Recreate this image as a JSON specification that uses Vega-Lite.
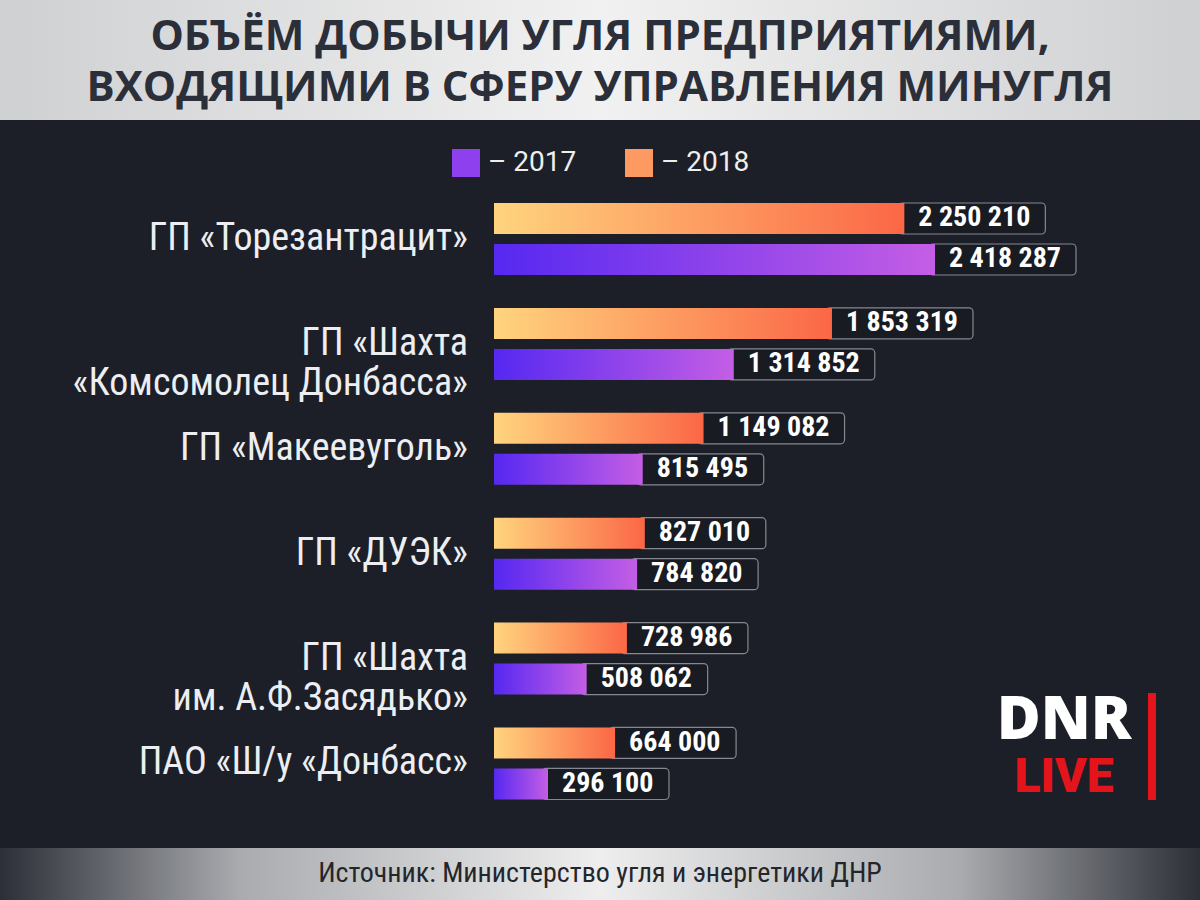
{
  "$schema": "https://vega.github.io/schema/vega-lite/v6.json",
  "background": "#1c1f27",
  "padding": 0,
  "spacing": 0,
  "config": {
    "view": {"stroke": null},
    "concat": {"spacing": 0},
    "locale": {"number": {"decimal": ",", "thousands": " ", "grouping": [3], "currency": ["", ""]}}
  },
  "vconcat": [
    {
      "width": 1200,
      "height": 120,
      "layer": [
        {
          "data": {"values": [{"band": "header"}]},
          "mark": {"type": "rect", "fill": {"gradient": "linear", "x1": 0, "y1": 0, "x2": 1, "y2": 0, "stops": [{"offset": 0, "color": "#cfd0d2"}, {"offset": 0.5, "color": "#f1f1f1"}, {"offset": 1, "color": "#cfd0d2"}]}},
          "encoding": {}
        },
        {
          "data": {"values": [{"t": "ОБЪЁМ ДОБЫЧИ УГЛЯ ПРЕДПРИЯТИЯМИ,\nВХОДЯЩИМИ В СФЕРУ УПРАВЛЕНИЯ МИНУГЛЯ"}]},
          "mark": {"type": "text", "font": "Open Sans", "fontWeight": 700, "fontSize": 42, "color": "#2b2f39", "lineBreak": "\n", "lineHeight": 51, "baseline": "middle", "align": "center", "dy": -23},
          "encoding": {"text": {"field": "t", "type": "nominal"}}
        }
      ]
    },
    {
      "width": 1200,
      "height": 728,
      "data": {"values": [
        {"company": "ГП «Торезантрацит»", "year": "2018", "value": 2250210},
        {"company": "ГП «Торезантрацит»", "year": "2017", "value": 2418287},
        {"company": "ГП «Шахта\n«Комсомолец Донбасса»", "year": "2018", "value": 1853319},
        {"company": "ГП «Шахта\n«Комсомолец Донбасса»", "year": "2017", "value": 1314852},
        {"company": "ГП «Макеевуголь»", "year": "2018", "value": 1149082},
        {"company": "ГП «Макеевуголь»", "year": "2017", "value": 815495},
        {"company": "ГП «ДУЭК»", "year": "2018", "value": 827010},
        {"company": "ГП «ДУЭК»", "year": "2017", "value": 784820},
        {"company": "ГП «Шахта\nим. А.Ф.Засядько»", "year": "2018", "value": 728986},
        {"company": "ГП «Шахта\nим. А.Ф.Засядько»", "year": "2017", "value": 508062},
        {"company": "ПАО «Ш/у «Донбасс»", "year": "2018", "value": 664000},
        {"company": "ПАО «Ш/у «Донбасс»", "year": "2017", "value": 296100}
      ]},
      "encoding": {
        "y": {
          "field": "company", "type": "nominal", "axis": null, "sort": null,
          "scale": {
            "domain": ["ГП «Торезантрацит»", "ГП «Шахта\n«Комсомолец Донбасса»", "ГП «Макеевуголь»", "ГП «ДУЭК»", "ГП «Шахта\nим. А.Ф.Засядько»", "ПАО «Ш/у «Донбасс»"],
            "paddingInner": 0.3136, "paddingOuter": 0.6268, "align": 0.631
          }
        }
      },
      "layer": [
        {
          "mark": {"type": "bar", "fill": "#181b22", "stroke": "#858892", "strokeWidth": 1.2, "cornerRadius": 4, "xOffset": -6, "x2Offset": {"expr": "datum.value >= 1000000 ? 141 : 121"}},
          "encoding": {
            "x": {"field": "value", "type": "quantitative", "axis": null, "scale": {"domain": [-2709000, 3871500], "nice": false, "zero": false}},
            "x2": {"field": "value"},
            "yOffset": {"field": "year", "type": "nominal", "scale": {"domain": ["2018", "2017"], "paddingInner": 0.2439, "paddingOuter": 0}}
          }
        },
        {
          "transform": [{"filter": "datum.year == '2018'"}],
          "mark": {"type": "bar", "fill": {"gradient": "linear", "x1": 0, "y1": 0, "x2": 1, "y2": 0, "stops": [{"offset": 0, "color": "#ffd47e"}, {"offset": 1, "color": "#fb6746"}]}},
          "encoding": {
            "x": {"field": "value", "type": "quantitative"},
            "yOffset": {"field": "year", "type": "nominal"},
            "color": {
              "field": "year", "type": "nominal",
              "scale": {"domain": ["2017", "2018"], "range": ["#8e40ee", "#fc9a62"]},
              "legend": {"orient": "none", "legendX": 452, "legendY": 149, "direction": "horizontal", "title": null, "symbolType": "square", "symbolSize": 784, "symbolStrokeWidth": 0, "symbolOpacity": 1, "labelFont": "Roboto", "labelFontSize": 28, "labelColor": "#eeeeee", "labelExpr": "'– ' + datum.label", "labelOffset": 8, "columnPadding": 48, "labelLimit": 0, "padding": 0}
            }
          }
        },
        {
          "transform": [{"filter": "datum.year == '2017'"}],
          "mark": {"type": "bar", "fill": {"gradient": "linear", "x1": 0, "y1": 0, "x2": 1, "y2": 0, "stops": [{"offset": 0, "color": "#5628f1"}, {"offset": 1, "color": "#c45ee5"}]}},
          "encoding": {
            "x": {"field": "value", "type": "quantitative"},
            "yOffset": {"field": "year", "type": "nominal"},
            "color": {"field": "year", "type": "nominal"}
          }
        },
        {
          "mark": {"type": "text", "align": "left", "baseline": "middle", "dx": 14, "font": "Roboto Condensed, Liberation Sans Narrow, Roboto", "fontWeight": 700, "fontSize": 28, "color": "#ffffff"},
          "encoding": {
            "x": {"field": "value", "type": "quantitative"},
            "yOffset": {"field": "year", "type": "nominal"},
            "text": {"field": "value", "type": "quantitative", "format": ",d"}
          }
        },
        {
          "transform": [{"filter": "datum.year == '2018'"}],
          "mark": {"type": "text", "align": "right", "baseline": "middle", "dx": -26, "font": "Roboto Condensed, Liberation Sans Narrow, Roboto", "fontSize": 38, "color": "#eceef2", "lineBreak": "\n", "lineHeight": 40},
          "encoding": {
            "x": {"datum": 0, "type": "quantitative"},
            "text": {"field": "company", "type": "nominal"}
          }
        },
        {
          "data": {"values": [{"logo": "DNR"}]},
          "mark": {"type": "text", "align": "center", "baseline": "middle", "dy": -42, "font": "Open Sans", "fontWeight": 800, "fontSize": 60, "letterSpacing": -3, "color": "#ffffff"},
          "encoding": {
            "x": {"datum": 3125700, "type": "quantitative"},
            "y": {"datum": "ПАО «Ш/у «Донбасс»", "type": "nominal"},
            "text": {"field": "logo", "type": "nominal"}
          }
        },
        {
          "data": {"values": [{"logo": "LIVE"}]},
          "mark": {"type": "text", "align": "center", "baseline": "middle", "dy": 15, "font": "Roboto", "fontWeight": 900, "fontSize": 48, "letterSpacing": 3, "color": "#e3141b"},
          "encoding": {
            "x": {"datum": 3125700, "type": "quantitative"},
            "y": {"datum": "ПАО «Ш/у «Донбасс»", "type": "nominal"},
            "text": {"field": "logo", "type": "nominal"}
          }
        },
        {
          "data": {"values": [{"logo": "bar"}]},
          "mark": {"type": "bar", "height": 107, "yOffset": -17, "fill": "#e3141b"},
          "encoding": {
            "x": {"datum": 3586300, "type": "quantitative"},
            "x2": {"datum": 3630200},
            "y": {"datum": "ПАО «Ш/у «Донбасс»", "type": "nominal"}
          }
        }
      ]
    },
    {
      "width": 1200,
      "height": 52,
      "layer": [
        {
          "data": {"values": [{"band": "footer"}]},
          "mark": {"type": "rect", "fill": {"gradient": "linear", "x1": 0, "y1": 0, "x2": 1, "y2": 0, "stops": [{"offset": 0, "color": "#2c2f37"}, {"offset": 0.2, "color": "#a9abaf"}, {"offset": 0.5, "color": "#eeeeee"}, {"offset": 0.8, "color": "#a9abaf"}, {"offset": 1, "color": "#2c2f37"}]}},
          "encoding": {}
        },
        {
          "data": {"values": [{"t": "Источник: Министерство угля и энергетики ДНР"}]},
          "mark": {"type": "text", "font": "Roboto Condensed, Liberation Sans Narrow, Roboto", "fontSize": 28, "color": "#24262c", "baseline": "middle", "align": "center"},
          "encoding": {"text": {"field": "t", "type": "nominal"}}
        }
      ]
    }
  ]
}
